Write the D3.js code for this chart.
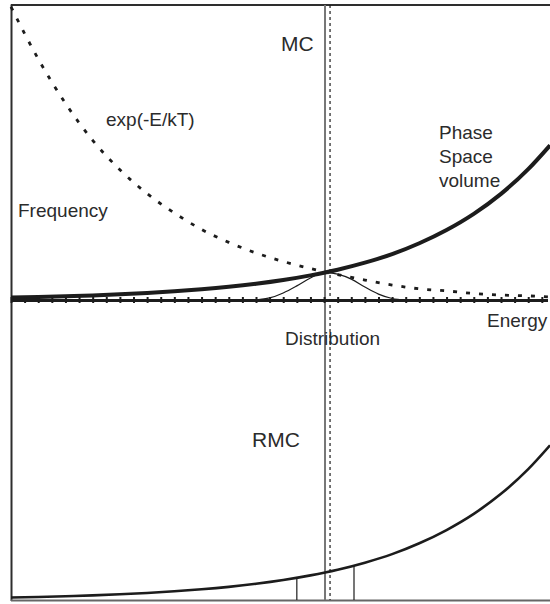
<!DOCTYPE html>
<html>
<head>
<meta charset="utf-8">
<script src="https://cdn.jsdelivr.net/npm/d3@7"></script>
<style>
  html, body { margin: 0; padding: 0; background: #fff; }
  svg { display: block; }
  text { font-family: "Liberation Sans", Arial, Helvetica, sans-serif; fill: #2b2b2b; }
</style>
</head>
<body>
<svg id="chart" width="550" height="604"></svg>
<script>
// ---------------- data ----------------
const energyTicks = d3.range(0, 40);                      // tick marks on the Energy axis
const curveEnergy = [0, 2, 4, 6, 8, 10, 12, 14, 16, 18, 20, 22, 24, 26, 28, 30, 32, 34, 36, 38, 39.6];
const phaseSpace = [0.0084, 0.0104, 0.0128, 0.0157, 0.0194, 0.0239, 0.0295, 0.0363, 0.0447, 0.0551,
                    0.0679, 0.0837, 0.103, 0.127, 0.156, 0.193, 0.238, 0.293, 0.361, 0.445, 0.526];
const boltzmann  = [0.997, 0.820, 0.669, 0.543, 0.443, 0.362, 0.296, 0.240, 0.196, 0.160,
                    0.131, 0.107, 0.086, 0.068, 0.051, 0.038, 0.031, 0.022, 0.017, 0.014, 0.010];
const distEnergy = [18, 19, 20, 21, 22, 23, 24, 25, 26, 27, 28, 29];
const distValues = [0, 0.007, 0.024, 0.048, 0.075, 0.094, 0.088, 0.071, 0.044, 0.020, 0.005, 0];
const mcEnergy = 23.07;          // solid vertical line
const meanEnergy = 23.44;        // dashed vertical line
const rmcWindow = [21.0, 25.2];  // RMC sampling window
const labels = {
  mc: "MC", rmc: "RMC", exp: "exp(-E/kT)", freq: "Frequency",
  phase: ["Phase", "Space", "volume"], energy: "Energy", dist: "Distribution"
};

// ---------------- layout ----------------
const svg = d3.select("#chart");
const x = d3.scaleLinear().domain([0, 39.6]).range([11, 550]);
const yTop = d3.scaleLinear().domain([0, 1]).range([300, 6]);
const yBot = d3.scaleLinear().domain([0, 1]).range([600, 306]);

const ink = "#1c1c1c";
const frame = "#2e2e2e";

// frame
svg.append("line").attr("x1", 11.5).attr("x2", 11.5).attr("y1", 4.5).attr("y2", 601)
  .attr("stroke", frame).attr("stroke-width", 2);
svg.append("line").attr("x1", 11).attr("x2", 550).attr("y1", 5).attr("y2", 5)
  .attr("stroke", frame).attr("stroke-width", 2);
svg.append("line").attr("x1", 11).attr("x2", 550).attr("y1", 600.5).attr("y2", 600.5)
  .attr("stroke", "#666").attr("stroke-width", 2);

// vertical markers
svg.append("line").attr("x1", x(mcEnergy)).attr("x2", x(mcEnergy)).attr("y1", 5).attr("y2", 600)
  .attr("stroke", "#777").attr("stroke-width", 2);
svg.append("line").attr("x1", x(meanEnergy)).attr("x2", x(meanEnergy)).attr("y1", 5).attr("y2", 600)
  .attr("stroke", ink).attr("stroke-width", 1.2).attr("stroke-dasharray", "3,3");

// top panel curves
const pts = (vals) => curveEnergy.map((e, i) => [e, vals[i]]);
const lineTop = d3.line().x(d => x(d[0])).y(d => yTop(d[1])).curve(d3.curveMonotoneX);
const lineBot = d3.line().x(d => x(d[0])).y(d => yBot(d[1])).curve(d3.curveMonotoneX);

svg.append("path").attr("d", lineTop(pts(boltzmann)))
  .attr("fill", "none").attr("stroke", ink).attr("stroke-width", 2.8)
  .attr("stroke-dasharray", "4,9");

svg.append("path").attr("d", lineTop(distEnergy.map((e, i) => [e, distValues[i]])))
  .attr("fill", "none").attr("stroke", ink).attr("stroke-width", 1.2);

svg.append("path").attr("d", lineTop(pts(phaseSpace)))
  .attr("fill", "none").attr("stroke", ink).attr("stroke-width", 4);

// Energy axis with tick marks
const axis = d3.axisBottom(x).tickValues(energyTicks).tickSizeInner(6).tickSizeOuter(0).tickFormat("");
const ag = svg.append("g").attr("transform", "translate(0,297)").call(axis);
ag.select(".domain").remove();
ag.selectAll(".tick line").attr("stroke", ink).attr("stroke-width", 2);
svg.append("line").attr("x1", 11).attr("x2", 548).attr("y1", 300.5).attr("y2", 300.5)
  .attr("stroke", ink).attr("stroke-width", 3);

// bottom panel
svg.append("path").attr("d", lineBot(pts(phaseSpace)))
  .attr("fill", "none").attr("stroke", ink).attr("stroke-width", 2.6);
const interp = (e) => {
  const i = d3.bisectLeft(curveEnergy, e);
  const t = (e - curveEnergy[i - 1]) / (curveEnergy[i] - curveEnergy[i - 1]);
  return phaseSpace[i - 1] + t * (phaseSpace[i] - phaseSpace[i - 1]);
};
svg.selectAll(".win").data(rmcWindow).enter().append("line")
  .attr("x1", d => x(d)).attr("x2", d => x(d))
  .attr("y1", d => yBot(interp(d))).attr("y2", 600)
  .attr("stroke", ink).attr("stroke-width", 1.2);

// labels
const addText = (t, tx, ty, fs) => svg.append("text").attr("x", tx).attr("y", ty)
  .attr("font-size", fs || 19).text(t);
addText(labels.mc, 281, 51, 21);
addText(labels.exp, 106, 126);
addText(labels.freq, 18, 217);
labels.phase.forEach((t, i) => addText(t, 439, 139 + i * 24));
addText(labels.energy, 487, 327);
addText(labels.dist, 285, 345);
addText(labels.rmc, 252, 447, 21);
</script>
</body>
</html>
